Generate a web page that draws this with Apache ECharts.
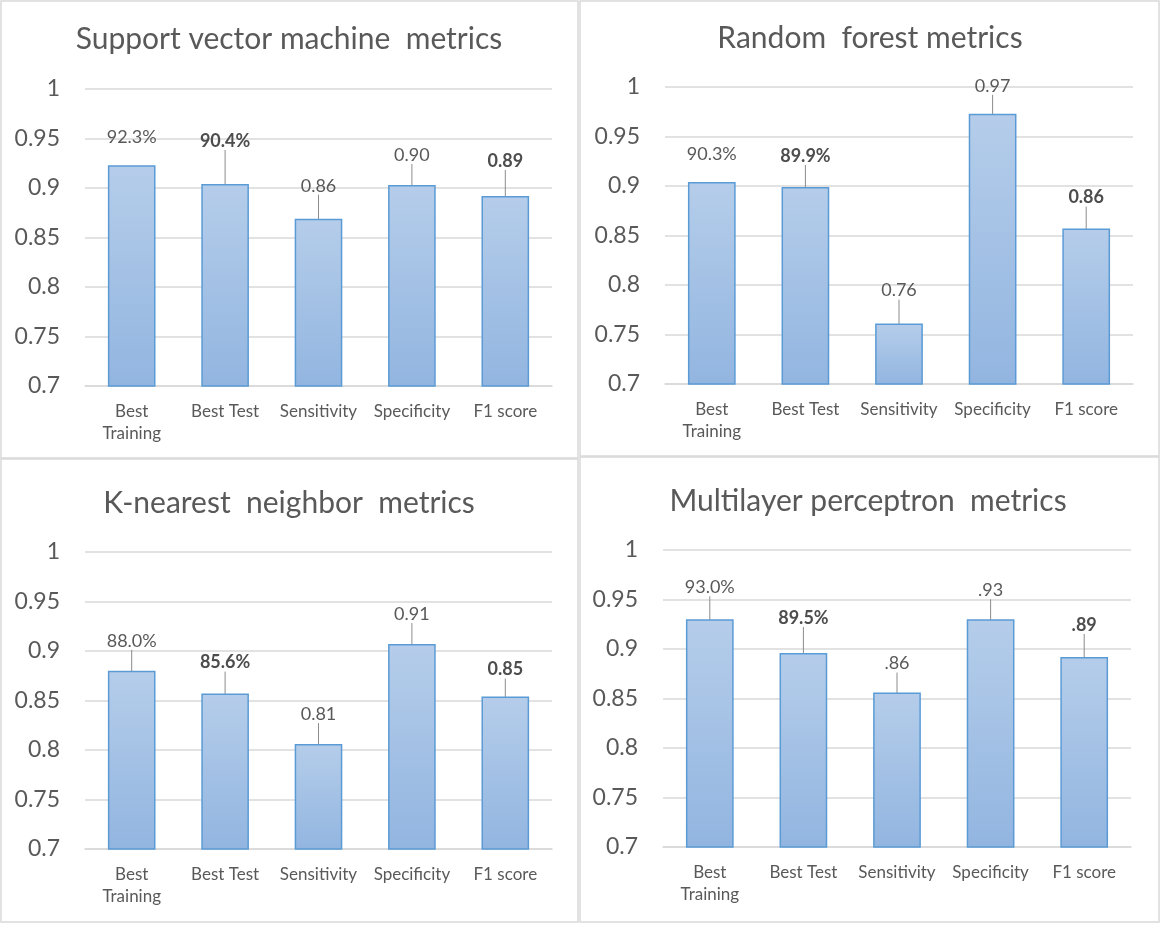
<!DOCTYPE html>
<html>
<head>
<meta charset="utf-8">
<script src="https://cdn.jsdelivr.net/npm/echarts@6/dist/echarts.min.js"></script>
<style>
html,body{margin:0;padding:0;background:#fff;}
#chart{width:1162px;height:925px;}
</style>
</head>
<body>
<div id="chart"></div>
<script>
// ---- data ----
const categories = ['Best\nTraining', 'Best Test', 'Sensitivity', 'Specificity', 'F1 score'];
const titles = ['Support vector machine  metrics', 'Random  forest metrics', 'K-nearest  neighbor  metrics', 'Multilayer perceptron  metrics'];

const svmValues = [0.923, 0.904, 0.869, 0.903, 0.892];
const svmLabels = ['92.3%', '90.4%', '0.86', '0.90', '0.89'];

const rfValues = [0.904, 0.899, 0.761, 0.973, 0.857];
const rfLabels = ['90.3%', '89.9%', '0.76', '0.97', '0.86'];

const knnValues = [0.880, 0.857, 0.806, 0.907, 0.854];
const knnLabels = ['88.0%', '85.6%', '0.81', '0.91', '0.85'];

const mlpValues = [0.930, 0.896, 0.856, 0.930, 0.892];
const mlpLabels = ['93.0%', '89.5%', '.86', '.93', '.89'];

const yMin = 0.7, yMax = 1, yStep = 0.05;
const boldLabelIndices = [1, 4];

// ---- layout / style ----
const FONT = 'Lato';
const TXT = '#595959';
const panels = [
  { values: svmValues, labels: svmLabels, grid: {left: 85, right: 610, top: 89, bottom: 539}, titleX: 289, titleY: 21,
    dy: [-10, -25, -15, -12, -17], line: [false, true, true, true, true] },
  { values: rfValues, labels: rfLabels, grid: {left: 665, right: 29, top: 87, bottom: 541}, titleX: 870, titleY: 20,
    dy: [-10, -13, -15, -10, -13], line: [false, true, true, true, true] },
  { values: knnValues, labels: knnLabels, grid: {left: 85, right: 610, top: 552, bottom: 76}, titleX: 289, titleY: 485,
    dy: [-12, -13, -12, -12, -9], line: [true, true, true, true, true] },
  { values: mlpValues, labels: mlpLabels, grid: {left: 663, right: 31, top: 550, bottom: 78}, titleX: 868, titleY: 483,
    dy: [-14, -17, -11, -11, -14], line: [true, true, true, true, true] }
];

const barFill = new echarts.graphic.LinearGradient(0, 0, 0, 1, [
  {offset: 0, color: '#b5cdea'},
  {offset: 1, color: '#92b5e0'}
]);

const option = {
  backgroundColor: '#ffffff',
  animation: false,
  title: panels.map((p, i) => ({
    text: titles[i],
    left: p.titleX, top: p.titleY, textAlign: 'center',
    padding: 0,
    textStyle: {fontFamily: FONT, fontSize: 30, fontWeight: 'normal', color: TXT, lineHeight: 36}
  })),
  grid: panels.map(p => Object.assign({containLabel: false}, p.grid)),
  xAxis: panels.map((p, i) => ({
    type: 'category', gridIndex: i, data: categories,
    axisLine: {show: true, lineStyle: {color: '#d9d9d9', width: 1.5}},
    axisTick: {show: false},
    axisLabel: {color: TXT, fontFamily: FONT, fontSize: 17, lineHeight: 22, margin: 15, interval: 0}
  })),
  yAxis: panels.map((p, i) => ({
    type: 'value', gridIndex: i, min: yMin, max: yMax, interval: yStep,
    axisLine: {show: false}, axisTick: {show: false},
    splitLine: {lineStyle: {color: '#d9d9d9', width: 1.5}},
    axisLabel: {color: TXT, fontFamily: FONT, fontSize: 23, margin: 25,
      formatter: v => String(Math.round(v * 100) / 100)}
  })),
  series: panels.map((p, i) => ({
    type: 'bar', xAxisIndex: i, yAxisIndex: i, barWidth: '51%',
    itemStyle: {color: barFill, borderColor: '#5b9bd5', borderWidth: 1.5},
    data: p.values.map((v, j) => ({
      value: v,
      label: {fontWeight: boldLabelIndices.includes(j) ? 'bold' : 'normal',
              color: boldLabelIndices.includes(j) ? '#4d4d4d' : TXT},
      labelLine: {show: p.line[j]}
    })),
    label: {show: true, position: 'top', distance: 5, fontFamily: FONT, fontSize: 18, padding: [0, 0, 4, 0],
      formatter: (params) => p.labels[params.dataIndex]},
    labelLayout: (params) => ({dy: p.dy[params.dataIndex]}),
    labelLine: {show: true, lineStyle: {color: '#8c8c8c', width: 1}}
  })),
  graphic: [
    {type: 'rect', shape: {x: 1, y: 1, width: 577, height: 457}, style: {fill: 'none', stroke: '#d9d9d9', lineWidth: 1.5}, silent: true},
    {type: 'rect', shape: {x: 580, y: 1, width: 579, height: 455}, style: {fill: 'none', stroke: '#d9d9d9', lineWidth: 1.5}, silent: true},
    {type: 'rect', shape: {x: 1, y: 459, width: 577, height: 463}, style: {fill: 'none', stroke: '#d9d9d9', lineWidth: 1.5}, silent: true},
    {type: 'rect', shape: {x: 580, y: 457, width: 579, height: 465}, style: {fill: 'none', stroke: '#d9d9d9', lineWidth: 1.5}, silent: true}
  ]
};

const chart = echarts.init(document.getElementById('chart'), null, {renderer: 'canvas'});
chart.setOption(option);
</script>
</body>
</html>
